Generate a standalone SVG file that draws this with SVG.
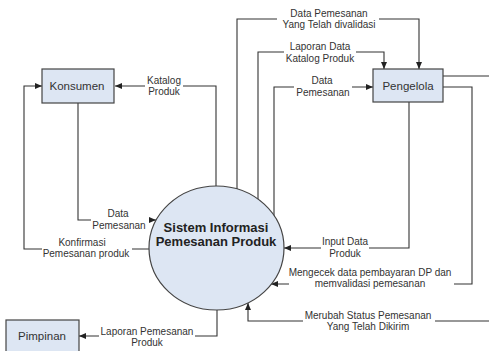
<svg xmlns="http://www.w3.org/2000/svg" width="489" height="351" viewBox="0 0 489 351">
<style>
.box{fill:#dde6f3;stroke:#444;stroke-width:1.2}
.bt{font-family:"Liberation Sans",Arial,sans-serif;font-size:11.5px;fill:#333;text-anchor:middle}
.tt{font-family:"Liberation Sans",Arial,sans-serif;font-size:13px;font-weight:bold;fill:#222;text-anchor:middle}
.lb{font-family:"Liberation Sans",Arial,sans-serif;font-size:10px;fill:#333;text-anchor:middle}
.ln{fill:none;stroke:#333;stroke-width:1.1}
.bg{fill:#fff}
</style>
<defs>
<marker id="arr" markerUnits="userSpaceOnUse" markerWidth="8" markerHeight="6" refX="7" refY="3" orient="auto">
<path d="M0,0 L7,3 L0,6 Z" fill="#222"/>
</marker>
</defs>
<g id="connectors">
<path class="ln" d="M216,186 V86 H115" marker-end="url(#arr)"/>
<path class="ln" d="M78,103 V220 H156" marker-end="url(#arr)"/>
<path class="ln" d="M149,249 H24 V86 H42" marker-end="url(#arr)"/>
<path class="ln" d="M217,310 V336 H79" marker-end="url(#arr)"/>
<path class="ln" d="M237,189 V19 H419 V69" marker-end="url(#arr)"/>
<path class="ln" d="M258,200 V52 H384 V69" marker-end="url(#arr)"/>
<path class="ln" d="M274,217 V87 H373" marker-end="url(#arr)"/>
<path class="ln" d="M409,102 V248 H284" marker-end="url(#arr)"/>
<path class="ln" d="M443,87 H472 V284 H271" marker-end="url(#arr)"/>
<path class="ln" d="M443,76 H495 V321 H248 V303" marker-end="url(#arr)"/>
<g id="labels">
<rect class="bg" x="145" y="74" width="38" height="22"/>
<text class="lb" x="164" y="83.5">Katalog</text><text class="lb" x="164" y="94.5">Produk</text>
<rect class="bg" x="91" y="207" width="58" height="23"/>
<text class="lb" x="118" y="216.5">Data</text><text class="lb" x="119" y="228.5">Pemesanan</text>
<rect class="bg" x="42" y="237" width="90" height="22"/>
<text class="lb" x="82" y="245.5">Konfirmasi</text><text class="lb" x="86" y="256.5">Pemesanan produk</text>
<rect class="bg" x="99" y="326" width="96" height="21"/>
<text class="lb" x="147" y="334.5">Laporan Pemesanan</text><text class="lb" x="147" y="345.5">Produk</text>
<rect class="bg" x="277" y="7" width="102" height="22"/>
<text class="lb" x="329" y="16.5">Data Pemesanan</text><text class="lb" x="329" y="27.5">Yang Telah divalidasi</text>
<rect class="bg" x="284" y="40" width="72" height="23"/>
<text class="lb" x="320" y="49.5">Laporan Data</text><text class="lb" x="320" y="61.5">Katalog Produk</text>
<rect class="bg" x="294" y="74" width="58" height="23"/>
<text class="lb" x="322" y="83.5">Data</text><text class="lb" x="323" y="95.5">Pemesanan</text>
<rect class="bg" x="321" y="235" width="48" height="23"/>
<text class="lb" x="345" y="244.5">Input Data</text><text class="lb" x="345" y="256.5">Produk</text>
<rect class="bg" x="289" y="266" width="165" height="23"/>
<text class="lb" x="370" y="275.5">Mengecek data pembayaran DP dan</text><text class="lb" x="370" y="286.5">memvalidasi pemesanan</text>
<rect class="bg" x="303" y="309" width="132" height="22"/>
<text class="lb" x="368" y="318.5">Merubah Status Pemesanan</text><text class="lb" x="368" y="329.5">Yang Telah Dikirim</text>
</g>
</g>
<g id="sistem">
<ellipse cx="216.5" cy="248" rx="67.5" ry="62" fill="#dde6f3" stroke="#444" stroke-width="1.2"/>
<text class="tt" x="216" y="232">Sistem Informasi</text>
<text class="tt" x="216" y="246">Pemesanan Produk</text>
</g>
<g id="konsumen">
<rect class="box" x="42" y="69" width="72" height="34"/>
<text class="bt" x="77" y="90">Konsumen</text>
</g>
<g id="pengelola">
<rect class="box" x="373" y="69" width="70" height="33"/>
<text class="bt" x="408" y="90">Pengelola</text>
</g>
<g id="pimpinan">
<rect class="box" x="6" y="320" width="73" height="40"/>
<text class="bt" x="42" y="340">Pimpinan</text>
</g>
</svg>
